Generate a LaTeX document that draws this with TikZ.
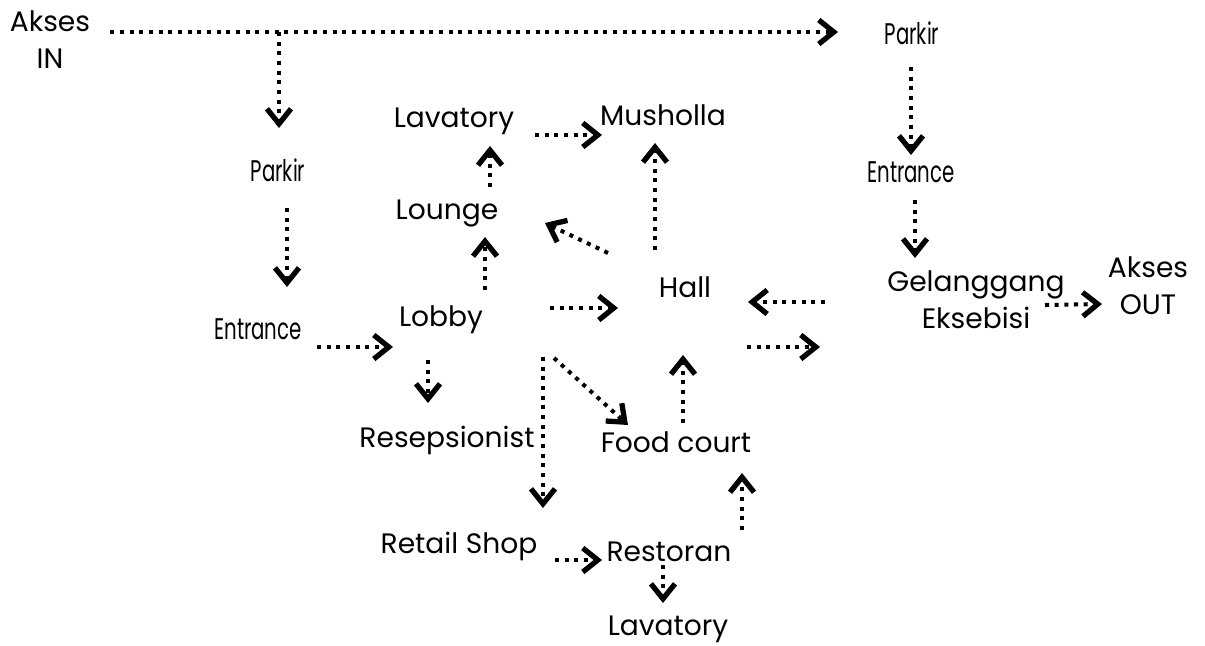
\documentclass[tikz,border=0pt]{standalone}
\usepackage{fontspec}
\setmainfont{Poppins}
\newfontfamily\narrowfont[FakeStretch=0.66]{Poppins}
\usetikzlibrary{positioning,calc,arrows.meta}

\tikzset{
	place/.style={font=\fontsize{16}{21}\selectfont,inner sep=0pt,text height=0.4cm,text depth=0pt},
	placenarrow/.style={place,font=\narrowfont\fontsize{17}{21}\selectfont},
	twoline/.style={font=\fontsize{16}{21}\selectfont,inner sep=0pt,align=center},
	flow/.style={line width=2.3pt,dash pattern=on 2.3pt off 3.2pt,-{Straight Barb[length=0.3cm,width=0.48cm,line width=3pt]}},
}

\begin{document}
\begin{tikzpicture}[x=0.02cm,y=-0.02cm]
		\useasboundingbox (0,0) rectangle (1205,646);
		% labels
		\node[twoline] (aksesin) at (50,40) {Akses\\IN};
		\node[placenarrow] (parkirA) at (278,171) {Parkir};
		\node[placenarrow] (parkirB) at (912,35) {Parkir};
		\node[placenarrow] (entranceA) at (258,329) {Entrance};
		\node[placenarrow] (entranceB) at (911,172) {Entrance};
		\node[place] (lobby) at (441,316) {Lobby};
		\node[place] (lounge) at (447,209) {Lounge};
		\node[place] (lavA) at (454,117) {Lavatory};
		\node[place] (musholla) at (663,115) {Musholla};
		\node[place] (hall) at (685,287) {Hall};
		\node[place] (resep) at (447,437) {Resepsionist};
		\node[place] (food) at (676,442) {Food court};
		\node[place] (retail) at (459,543) {Retail Shop};
		\node[place] (restoran) at (669,551) {Restoran};
		\node[place] (lavB) at (668,625) {Lavatory};
		\node[twoline] (gel) at (976,300) {Gelanggang\\Eksebisi};
		\node[twoline] (aksesout) at (1148,286) {Akses\\OUT};
		\coordinate (split) at (279,32);

		% flows
		\draw[flow] ($(aksesin.east)+(20,-8)$) -- ($(parkirB)+(-74,-3)$);
		\draw[flow] (split) -- ($(parkirA)+(1,-43)$);
		\draw[flow] ($(parkirA)+(9,37)$) -- ($(entranceA)+(29,-42)$);
		\draw[flow] ($(entranceA)+(59,18)$) -- ($(lobby)+(-48,31)$);
		\draw[flow] ($(lobby)+(44,-26)$) -- ($(lounge)+(38,28)$);
		\draw[flow] ($(lounge)+(43,-22)$) -- ($(lavA)+(36,29)$);
		\draw[flow] ($(lavA)+(81,18)$) -- ($(musholla)+(-61,20)$);
		\draw[flow] ($(hall)+(-30,-37)$) -- ($(musholla)+(-8,28)$);
		\draw[flow] ($(hall)+(-77,-34)$) -- ($(lounge)+(98,14)$);
		\draw[flow] ($(lobby)+(109,-8)$) -- ($(hall)+(-67,21)$);
		\draw[flow] ($(lobby)+(-13,44)$) -- ($(resep)+(-19,-34)$);
		\draw[flow] ($(lobby)+(102,41)$) -- ($(retail)+(84,-35)$);
		\draw[flow] ($(lobby)+(113,42)$) -- ($(food)+(-48,-17)$);
		\draw[flow] ($(food)+(7,-19)$) -- ($(hall)+(-2,68)$);
		\draw[flow] ($(retail)+(96,17)$) -- ($(restoran)+(-67,9)$);
		\draw[flow] ($(restoran)+(-6,14)$) -- ($(lavB)+(-5,-22)$);
		\draw[flow] ($(restoran)+(73,-21)$) -- ($(food)+(66,31)$);
		\draw[flow] ($(gel)+(-151,2)$) -- ($(hall)+(63,15)$);
		\draw[flow] ($(hall)+(62,60)$) -- ($(gel)+(-156,47)$);
		\draw[flow] ($(parkirB)+(-1,32)$) -- ($(entranceB)+(0,-17)$);
		\draw[flow] ($(entranceB)+(4,28)$) -- ($(gel)+(-61,-42)$);
		\draw[flow] ($(gel)+(69,5)$) -- ($(aksesout)+(-46,18)$);
	\end{tikzpicture}
\end{document}
